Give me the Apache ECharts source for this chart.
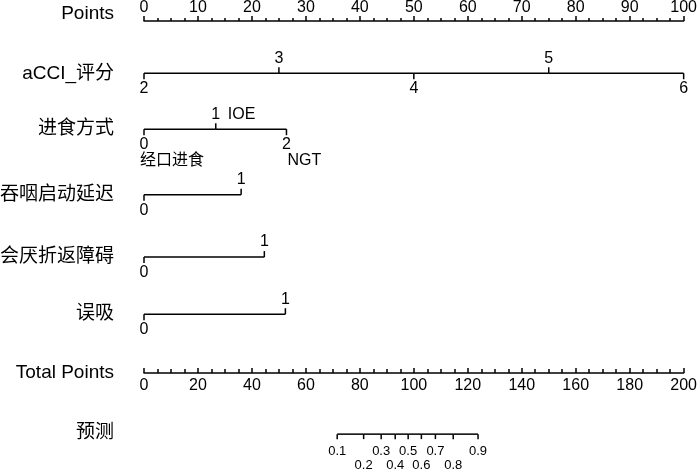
<!DOCTYPE html>
<html><head><meta charset="utf-8">
<script src="https://cdn.jsdelivr.net/npm/echarts@6/dist/echarts.min.js"></script>
<style>html,body{margin:0;padding:0;background:#fff}#c{width:700px;height:472px}</style>
</head><body><div id="c"></div>
<script>
// ---------- data ----------
const rowNames = ['Points', 'aCCI_评分', '进食方式', '吞咽启动延迟', '会厌折返障碍', '误吸', 'Total Points', '预测'];
const pointsMin = 0, pointsMax = 100, pointsStep = 10;
const totalMin = 0, totalMax = 200, totalStep = 20;

const acciLevels = ['2', '3', '4', '5', '6'];
const acciPoints = [0, 25, 50, 75, 100];

const feedLevels = ['0', '1', '2'];
const feedNames = ['经口进食', 'IOE', 'NGT'];
const feedPoints = [0, 13.3, 26.4];

const swallowLevels = ['0', '1'];
const swallowPoints = [0, 18.0];

const epiglottisLevels = ['0', '1'];
const epiglottisPoints = [0, 22.3];

const aspirationLevels = ['0', '1'];
const aspirationPoints = [0, 26.2];

const probLabels = ['0.1', '0.2', '0.3', '0.4', '0.5', '0.6', '0.7', '0.8', '0.9'];
const probTotalPoints = [71.6, 81.4, 87.9, 93.1, 97.9, 102.8, 108.0, 114.6, 123.8];

// ---------- layout (row positions in row units, styles) ----------
const rowPos = [0, 0.891, 1.844, 2.963, 4.024, 4.998, 6, 7.042];
const rowLabelDy = [-7, 0, 0, 0, 0, 0, 0, -1];
const FONT = "'Liberation Sans', 'Noto Sans CJK SC', sans-serif";
const LW = 1.5;
const lineStyle = { stroke: '#000', lineWidth: LW };
const TICK = 6;

function txt(text, x, y, size, align, valign) {
  return { type: 'text', x: x, y: y, style: { text: text, fill: '#000', fontSize: size, fontFamily: FONT, align: align, verticalAlign: valign } };
}

function levelSeries(levels, pts, row, names) {
  return {
    type: 'custom', xAxisIndex: 0, yAxisIndex: 0, clip: false, silent: true,
    data: pts.map((p, i) => [p, rowPos[row], i]),
    renderItem(params, api) {
      const i = api.value(2);
      const c = api.coord([api.value(0), api.value(1)]);
      const x = c[0], y = c[1];
      const up = i % 2 === 1;
      const ch = [];
      if (i < pts.length - 1) {
        const x2 = api.coord([pts[i + 1], api.value(1)])[0];
        ch.push({ type: 'line', shape: { x1: x, y1: y, x2: x2, y2: y }, style: lineStyle });
      }
      ch.push({ type: 'line', shape: { x1: x, y1: y, x2: x, y2: up ? y - TICK : y + TICK }, style: lineStyle });
      ch.push(txt(levels[i], x, up ? y - 15 : y + 15.5, 16, 'center', 'middle'));
      if (names) {
        if (up) {
          ch.push(txt(names[i], x + 12, y - 15, 16, 'left', 'middle'));
        } else {
          ch.push(txt(names[i], i === 0 ? x - 4 : x + 1, y + 31, 16, 'left', 'middle'));
        }
      }
      return { type: 'group', children: ch };
    }
  };
}

const rowLabelSeries = {
  type: 'custom', xAxisIndex: 0, yAxisIndex: 0, clip: false, silent: true,
  data: rowNames.map((n, i) => [0, rowPos[i], i]),
  renderItem(params, api) {
    const i = api.value(2);
    const c = api.coord([api.value(0), api.value(1)]);
    return txt(rowNames[i], c[0] - 30, c[1] + rowLabelDy[i], 19, 'right', 'middle');
  }
};

const predSeries = {
  type: 'custom', xAxisIndex: 1, yAxisIndex: 0, clip: false, silent: true,
  data: probTotalPoints.map((p, i) => [p, rowPos[7], i]),
  renderItem(params, api) {
    const i = api.value(2);
    const c = api.coord([api.value(0), api.value(1)]);
    const x = c[0], y = c[1];
    const ch = [];
    if (i < probTotalPoints.length - 1) {
      const x2 = api.coord([probTotalPoints[i + 1], api.value(1)])[0];
      ch.push({ type: 'line', shape: { x1: x, y1: y, x2: x2, y2: y }, style: lineStyle });
    }
    ch.push({ type: 'line', shape: { x1: x, y1: y, x2: x, y2: y + 5 }, style: lineStyle });
    ch.push(txt(probLabels[i], x, i % 2 === 0 ? y + 17 : y + 31, 13, 'center', 'middle'));
    return { type: 'group', children: ch };
  }
};

const axisCommon = {
  type: 'value',
  axisLine: { show: true, onZero: false, lineStyle: { color: '#000', width: LW } },
  splitLine: { show: false },
  minorSplitLine: { show: false },
  axisLabel: { color: '#000', fontSize: 16, fontFamily: FONT }
};

const chart = echarts.init(document.getElementById('c'), null, { renderer: 'canvas' });
chart.setOption({
  animation: false,
  backgroundColor: '#fff',
  grid: { left: 144, right: 13, top: 21, bottom: 99 },
  xAxis: [
    Object.assign({}, axisCommon, {
      position: 'top', min: pointsMin, max: pointsMax, interval: pointsStep,
      axisTick: { show: true, length: 5, lineStyle: { color: '#000', width: LW } },
      minorTick: { show: true, splitNumber: 4, length: 3, lineStyle: { color: '#000', width: LW } },
      axisLabel: { color: '#000', fontSize: 16, fontFamily: FONT, margin: 5 }
    }),
    Object.assign({}, axisCommon, {
      position: 'bottom', min: totalMin, max: totalMax, interval: totalStep,
      axisTick: { show: true, inside: true, length: 5, lineStyle: { color: '#000', width: LW } },
      minorTick: { show: true, splitNumber: 4, length: 4, lineStyle: { color: '#000', width: LW } },
      axisLabel: { color: '#000', fontSize: 16, fontFamily: FONT, margin: 5 }
    })
  ],
  yAxis: { type: 'value', min: 0, max: 6, inverse: true, show: false, splitLine: { show: false } },
  series: [
    rowLabelSeries,
    levelSeries(acciLevels, acciPoints, 1, null),
    levelSeries(feedLevels, feedPoints, 2, feedNames),
    levelSeries(swallowLevels, swallowPoints, 3, null),
    levelSeries(epiglottisLevels, epiglottisPoints, 4, null),
    levelSeries(aspirationLevels, aspirationPoints, 5, null),
    predSeries
  ]
});
</script>
</body></html>
